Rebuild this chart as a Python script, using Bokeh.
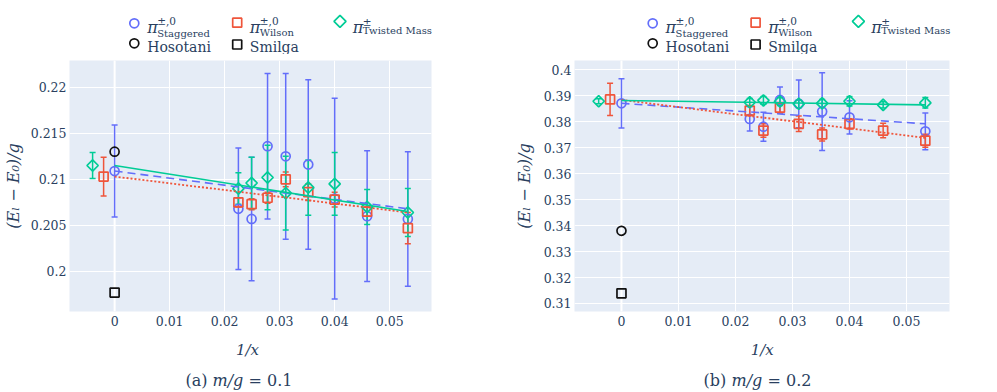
import numpy as np
from bokeh.plotting import figure
from bokeh.models import Range1d, FixedTicker, Span, Whisker, TeeHead, ColumnDataSource
from bokeh.layouts import column, row
from bokeh.core.properties import value
from bokeh.embed import file_html
from bokeh.resources import INLINE

# ---------------- data ----------------
INV_X = [0.0225, 0.0249, 0.0278, 0.0311, 0.0352, 0.0400, 0.0459, 0.0533]
INV_X_B_STAG = [0.0225, 0.0249, 0.0278, 0.0311, 0.0352, 0.0400, 0.0533]
EXTRAP_X = {"stag": 0.0, "wil": -0.002, "tm": -0.004}
FIT_X = [0.0, 0.0533]

# (a) m/g = 0.1
A_STAG_Y = [0.2068, 0.2057, 0.2136, 0.2125, 0.2116, 0.2079, 0.2060, 0.2057]
A_STAG_ERR = [0.0066, 0.0067, 0.0079, 0.0090, 0.0092, 0.0109, 0.0071, 0.0073]
A_WIL_Y = [0.2075, 0.2073, 0.2080, 0.2100, 0.2086, 0.2078, 0.2065, 0.2047]
A_WIL_ERR = [0.0005, 0.0006, 0.0006, 0.0008, 0.0009, 0.0008, 0.0005, 0.0017]
A_TM_Y = [0.2090, 0.2096, 0.2102, 0.2085, 0.2091, 0.2095, 0.2070, 0.2064]
A_TM_ERR = [0.0017, 0.0028, 0.0035, 0.0040, 0.0030, 0.0034, 0.0019, 0.0026]
A_EXTRAP_Y = {"stag": 0.2109, "wil": 0.2103, "tm": 0.2115}
A_EXTRAP_ERR = {"stag": 0.0050, "wil": 0.0021, "tm": 0.0014}
A_HOSOTANI = [0.2130]
A_SMILGA = [0.1977]
A_FIT_STAG = [0.2109, 0.2068]
A_FIT_WIL = [0.2103, 0.2064]
A_FIT_TM = [0.2115, 0.2065]

# (b) m/g = 0.2
B_STAG_Y = [0.3811, 0.3781, 0.3884, 0.3869, 0.3839, 0.3817, 0.3763]
B_STAG_ERR = [0.0047, 0.0056, 0.0050, 0.0092, 0.0150, 0.0064, 0.0071]
B_WIL_Y = [0.3843, 0.3766, 0.3854, 0.3792, 0.3751, 0.3792, 0.3766, 0.3727]
B_WIL_ERR = [0.0020, 0.0026, 0.0020, 0.0030, 0.0025, 0.0020, 0.0028, 0.0025]
B_TM_Y = [0.3875, 0.3882, 0.3878, 0.3869, 0.3871, 0.3879, 0.3865, 0.3873]
B_TM_ERR = [0.0015, 0.0015, 0.0015, 0.0015, 0.0015, 0.0018, 0.0012, 0.0020]
B_EXTRAP_Y = {"stag": 0.3871, "wil": 0.3886, "tm": 0.3879}
B_EXTRAP_ERR = {"stag": 0.0095, "wil": 0.0062, "tm": 0.0010}
B_HOSOTANI = [0.3380]
B_SMILGA = [0.3139]
B_FIT_STAG = [0.3871, 0.3792]
B_FIT_WIL = [0.3884, 0.3738]
B_FIT_TM = [0.3882, 0.3865]

XTICKS = [0, 0.01, 0.02, 0.03, 0.04, 0.05]
XTICK_LABELS = ["0", "0.01", "0.02", "0.03", "0.04", "0.05"]
A_YTICKS = [0.2, 0.205, 0.21, 0.215, 0.22]
A_YTICK_LABELS = ["0.2", "0.205", "0.21", "0.215", "0.22"]
B_YTICKS = [0.31, 0.32, 0.33, 0.34, 0.35, 0.36, 0.37, 0.38, 0.39, 0.4]
B_YTICK_LABELS = ["0.31", "0.32", "0.33", "0.34", "0.35", "0.36", "0.37", "0.38", "0.39", "0.4"]

X_LABEL = "1/x"
Y_LABEL = "(E\u2097 \u2212 E\u2080)/g"
LEG_PI = "\u03c0"
LEG_SUP = ["\u00b1,0", "\u00b1,0", "\u00b1"]
LEG_SUB = ["Staggered", "Wilson", "Twisted Mass"]
LEG_REF = ["Hosotani", "Smilga"]
CAPTIONS = [("(a)", "m/g", "= 0.1"), ("(b)", "m/g", "= 0.2")]

# ---------------- style ----------------
BLUE, RED, GREEN, BLACK = "#636EFA", "#EF553B", "#00CC96", "#111111"
TXT = "#2a3f5f"
FONT = "DejaVu Serif"
BG = "#E5ECF6"
W_TOTAL, LEG_H, MAIN_H, BOT_H = 996, 54, 281, 56


def add_series(p, xs, ys, errs, color, marker, size, angle=0.0):
    ys = np.array(ys)
    errs = np.array(errs)
    src = ColumnDataSource(dict(x=xs, y=ys, lo=ys - errs, hi=ys + errs))
    w = Whisker(source=src, base="x", upper="hi", lower="lo", dimension="height",
                line_color=color, line_width=1.5,
                upper_head=TeeHead(size=6, line_color=color, line_width=1.5),
                lower_head=TeeHead(size=6, line_color=color, line_width=1.5))
    p.add_layout(w)
    p.scatter("x", "y", source=src, marker=marker, size=size, angle=angle,
              fill_color=None, line_color=color, line_width=1.7)


def make_panel(width, bl, br, xr, yr, yticks, ylabels, stag_x, d):
    p = figure(width=width, height=MAIN_H, x_range=Range1d(*xr), y_range=Range1d(*yr),
               toolbar_location=None, output_backend="svg",
               min_border_left=bl, min_border_right=br, min_border_top=6, min_border_bottom=24)
    p.background_fill_color = BG
    p.border_fill_color = "white"
    p.outline_line_color = None
    p.grid.grid_line_color = "white"
    p.grid.grid_line_width = 1
    p.xaxis.ticker = FixedTicker(ticks=XTICKS)
    p.xaxis.major_label_overrides = {t: l for t, l in zip(XTICKS, XTICK_LABELS)}
    p.yaxis.ticker = FixedTicker(ticks=yticks)
    p.yaxis.major_label_overrides = {t: l for t, l in zip(yticks, ylabels)}
    p.yaxis.axis_label = Y_LABEL
    for ax in (p.xaxis[0], p.yaxis[0]):
        ax.axis_line_color = None
        ax.major_tick_line_color = None
        ax.minor_tick_line_color = None
        ax.major_tick_out = 0
        ax.major_tick_in = 0
        ax.minor_tick_out = 0
        ax.major_label_text_font = FONT
        ax.major_label_text_font_size = "12.5px"
        ax.major_label_text_color = TXT
        ax.axis_label_text_font = FONT
        ax.axis_label_text_font_style = "italic"
        ax.axis_label_text_color = TXT
    p.xaxis.major_label_standoff = 4
    p.yaxis.major_label_standoff = 3
    p.yaxis.axis_label_standoff = d["ylab_standoff"]
    p.yaxis.axis_label_text_font_size = "16px"

    p.add_layout(Span(location=0, dimension="height", line_color="white",
                      line_width=2, level="underlay"))

    ex = EXTRAP_X
    add_series(p, stag_x + [ex["stag"]], d["stag_y"] + [d["ext_y"]["stag"]],
               d["stag_err"] + [d["ext_err"]["stag"]], BLUE, "circle", 9)
    add_series(p, INV_X + [ex["wil"]], d["wil_y"] + [d["ext_y"]["wil"]],
               d["wil_err"] + [d["ext_err"]["wil"]], RED, "square", 9)
    add_series(p, INV_X + [ex["tm"]], d["tm_y"] + [d["ext_y"]["tm"]],
               d["tm_err"] + [d["ext_err"]["tm"]], GREEN, "square", 8, angle=np.pi / 4)

    p.line(FIT_X, d["fit_stag"], line_color=BLUE, line_width=1.6, line_dash="8 5")
    p.line(FIT_X, d["fit_wil"], line_color=RED, line_width=1.8, line_dash="2 2")
    p.line(FIT_X, d["fit_tm"], line_color=GREEN, line_width=1.6)

    p.scatter([0.0], d["hoso"], marker="circle", size=9, fill_color=None,
              line_color=BLACK, line_width=1.7)
    p.scatter([0.0], d["smilga"], marker="square", size=9, fill_color=None,
              line_color=BLACK, line_width=1.7)
    return p


pA = make_panel(498, 63, 67, (-0.0082, 0.0576), (0.19565, 0.2229), A_YTICKS, A_YTICK_LABELS, INV_X,
                dict(stag_y=A_STAG_Y, stag_err=A_STAG_ERR, wil_y=A_WIL_Y, wil_err=A_WIL_ERR,
                     tm_y=A_TM_Y, tm_err=A_TM_ERR, ext_y=A_EXTRAP_Y, ext_err=A_EXTRAP_ERR,
                     hoso=A_HOSOTANI, smilga=A_SMILGA, fit_stag=A_FIT_STAG, fit_wil=A_FIT_WIL,
                     fit_tm=A_FIT_TM, ylab_standoff=5))
pB = make_panel(498, 76, 47, (-0.00824, 0.05754), (0.30691, 0.40359), B_YTICKS, B_YTICK_LABELS, INV_X_B_STAG,
                dict(stag_y=B_STAG_Y, stag_err=B_STAG_ERR, wil_y=B_WIL_Y, wil_err=B_WIL_ERR,
                     tm_y=B_TM_Y, tm_err=B_TM_ERR, ext_y=B_EXTRAP_Y, ext_err=B_EXTRAP_ERR,
                     hoso=B_HOSOTANI, smilga=B_SMILGA, fit_stag=B_FIT_STAG, fit_wil=B_FIT_WIL,
                     fit_tm=B_FIT_TM, ylab_standoff=7))


def strip(h):
    f = figure(width=W_TOTAL, height=h, x_range=Range1d(0, W_TOTAL), y_range=Range1d(h, 0),
               x_axis_type=None, y_axis_type=None, toolbar_location=None, output_backend="svg",
               min_border=0)
    f.outline_line_color = None
    f.background_fill_color = "white"
    return f


def txt(p, x, y, s, size, style="normal", align="left"):
    p.text([x], [y], text=[s], text_font=value(FONT), text_font_size=value(size),
           text_font_style=value(style), text_color=TXT, text_baseline="alphabetic",
           text_align=align)


# ---------------- legend strip ----------------
leg = strip(LEG_H)
for off in (0.0, 518.4):
    leg.scatter([133.8 + off], [22.8], marker="circle", size=9, fill_color=None, line_color=BLUE, line_width=1.7)
    leg.scatter([236.7 + off], [22.2], marker="square", size=9, fill_color=None, line_color=RED, line_width=1.7)
    leg.scatter([339.5 + off], [20.8], marker="square", size=8.5, angle=np.pi / 4, fill_color=None,
                line_color=GREEN, line_width=1.7)
    leg.scatter([133.8 + off], [42.8], marker="circle", size=9, fill_color=None, line_color=BLACK, line_width=1.7)
    leg.scatter([236.7 + off], [44.0], marker="square", size=9, fill_color=None, line_color=BLACK, line_width=1.7)
    pi_x = [146.7, 249.3, 352.3]
    sup_y = [20.0, 20.0, 21.5]
    sub_y = [33.3, 32.3, 30.0]
    for i in range(3):
        txt(leg, pi_x[i] + off, 26.7, LEG_PI, "16px", "italic")
        txt(leg, pi_x[i] + 10 + off, sup_y[i], LEG_SUP[i], "10.5px")
        txt(leg, pi_x[i] + 10 + off, sub_y[i], LEG_SUB[i], "10px")
    txt(leg, 146.7 + off, 46.7, LEG_REF[0], "14px")
    txt(leg, 249.3 + off, 46.7, LEG_REF[1], "14px")

# ---------------- axis titles + captions ----------------
bot = strip(BOT_H)
for cx in (247.0, 761.7):
    txt(bot, cx, 14, X_LABEL, "15px", "italic", "center")
cap_x = [(185, 212, 248), (703, 731, 767)]
for (a, b, c), (xa, xb, xc) in zip(CAPTIONS, cap_x):
    txt(bot, xa, 45, a, "16px")
    txt(bot, xb, 45, b, "16px", "italic")
    txt(bot, xc, 45, c, "16px")

layout = column(leg, row(pA, pB), bot)
open("out.html", "w").write(file_html(layout, INLINE))
